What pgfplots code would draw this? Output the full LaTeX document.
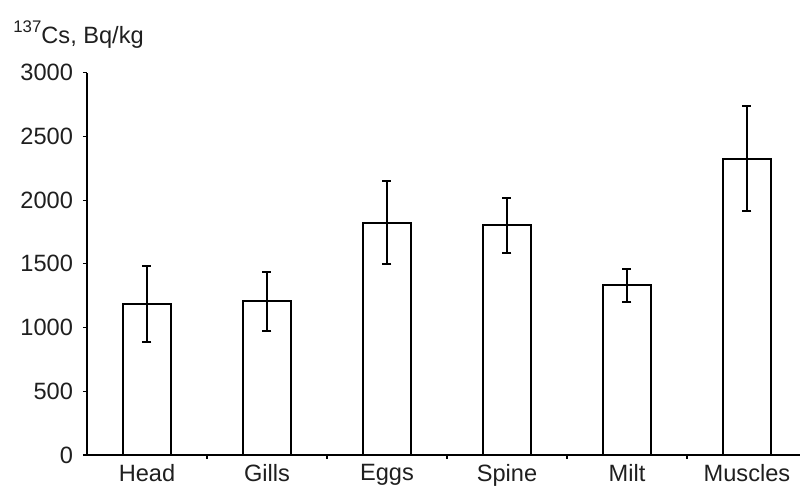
\documentclass[border=0pt]{standalone}
\usepackage{fontspec}
\setmainfont{Liberation Sans}
\usepackage{pgfplots}
\pgfplotsset{compat=1.18}
\begin{document}
\begin{tikzpicture}[x=1pt,y=1pt]
\useasboundingbox (-43.5,-17) rectangle (356.5,227.5);
\begin{axis}[
  at={(0,0)}, anchor=south west,
  scale only axis, width=360pt, height=191.15pt,
  xmin=-0.5, xmax=5.5, ymin=0, ymax=3000,
  axis lines*=left,
  axis line style={line width=0.6pt},
  ytick={0,500,1000,1500,2000,2500,3000},
  xtick={0.5,1.5,2.5,3.5,4.5}, xticklabels={},
  extra x ticks={0,1,2,3,4,5},
  extra x tick labels={Head,Gills,Eggs,Spine,Milt,Muscles},
  extra x tick style={major tick length=0pt},
  tick align=outside, major tick length=2pt,
  tick style={line width=0.6pt, black},
  /pgf/number format/assume math mode=true,
  /pgf/number format/1000 sep={},
  tick label style={font=\fontsize{11.8pt}{14pt}\selectfont, text=black!88},
  yticklabel style={xshift=-1.5pt},
  xticklabel style={yshift=-1pt},
]
\addplot[ybar, bar width=24pt, fill=white, draw=black, line width=1.1pt,
  error bars/.cd, y dir=both, y explicit,
  error bar style={line width=1pt, black},
  error mark options={rotate=90, mark size=2.25pt, line width=1pt, black}]
  table[x=x, y=y, y error=e] {
x y e
0 1183 300
1 1206 230
2 1823 325
3 1802 213
4 1332 128
5 2325 412
};
\end{axis}
\node[anchor=base west, inner sep=0pt, font=\fontsize{11.8pt}{14pt}\selectfont, text=black!88] at (-37,206) {\raisebox{0.85ex}{\fontsize{8.4pt}{10pt}\selectfont 137}Cs, Bq/kg};
\end{tikzpicture}
\end{document}
